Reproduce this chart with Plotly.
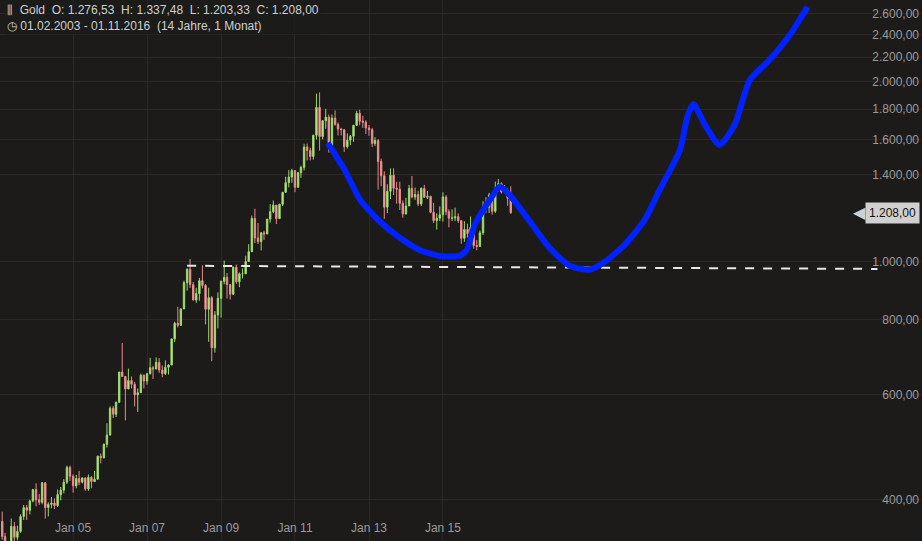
import plotly.graph_objects as go
import pandas as pd
import math

dates = pd.date_range("2003-02-01", "2016-11-01", freq="MS")

closes = [347,334,336,361,346,354,375,388,384,398,416,
 400,396,427,388,393,395,391,408,415,428,453,438,
 422,434,428,435,417,436,429,433,473,470,495,513,
 569,556,582,654,643,613,633,624,599,604,646,632,
 650,665,662,679,659,650,666,672,743,789,783,834,
 923,972,916,863,885,930,913,833,871,718,815,869,
 928,942,916,883,980,926,955,955,1001,1040,1182,1096,
 1081,1118,1113,1179,1213,1244,1181,1248,1307,1357,1386,1421,
 1333,1410,1439,1556,1536,1500,1628,1813,1620,1722,1746,1564,
 1740,1697,1668,1664,1558,1598,1622,1692,1772,1719,1712,1675,
 1664,1578,1595,1472,1393,1234,1312,1396,1328,1323,1253,1202,
 1240,1326,1284,1296,1250,1327,1282,1287,1210,1172,1183,1199,
 1284,1213,1183,1184,1190,1172,1095,1133,1115,1142,1065,1061,
 1118,1238,1233,1293,1215,1322,1351,1309,1316,1277,1208]
highs = [382,352,341,372,367,362,378,392,392,400,417,
 426,409,428,427,396,404,402,416,420,433,456,456,
 441,440,447,436,436,441,438,447,474,478,497,537,
 573,574,584,654,732,630,663,643,630,614,650,648,
 652,691,670,692,690,671,684,674,744,794,841,836,
 930,975,1011,925,905,940,987,918,905,876,827,889,
 930,1005,958,912,982,990,960,975,1024,1070,1195,1227,
 1161,1122,1127,1179,1249,1266,1245,1251,1307,1388,1424,1431,
 1424,1411,1448,1576,1577,1552,1632,1911,1921,1726,1803,1763,
 1764,1792,1711,1676,1666,1640,1630,1693,1790,1796,1755,1725,
 1694,1675,1616,1605,1488,1417,1348,1433,1434,1361,1362,1267,
 1280,1345,1392,1331,1315,1332,1345,1314,1290,1255,1205,1238,
 1307,1293,1224,1224,1232,1205,1175,1169,1158,1191,1142,1088,
 1128,1263,1283,1304,1303,1362,1375,1358,1344,1327,1337.48]
lows = [343,320,325,335,341,342,352,370,370,378,396,
 390,392,393,372,375,387,386,389,399,410,425,430,
 411,418,423,426,414,414,418,428,432,460,469,489,
 515,548,550,582,643,543,612,614,573,561,605,614,
 623,648,637,661,652,641,647,648,672,734,777,787,
 845,895,904,863,854,861,903,786,735,682,705,774,
 807,917,868,865,880,919,907,938,955,1000,1038,1075,
 1071,1045,1088,1113,1163,1206,1157,1182,1240,1313,1332,1356,
 1308,1330,1382,1422,1478,1478,1482,1602,1535,1603,1670,1523,
 1564,1690,1627,1627,1527,1547,1567,1588,1687,1692,1675,1636,
 1625,1555,1563,1321,1338,1180,1207,1274,1293,1251,1221,1185,
 1202,1240,1277,1269,1240,1240,1282,1273,1206,1161,1132,1170,
 1168,1197,1142,1170,1170,1162,1072,1080,1098,1110,1052,1046,
 1061,1109,1208,1207,1199,1207,1310,1301,1305,1241,1203.33]
first_open = 368
opens = [first_open] + closes[:-1]
opens[-1] = 1276.53

blue_x = ["2011-11-20","2012-05-05","2012-10-05","2013-04-20","2013-11-01","2014-05-15",
          "2014-12-01","2015-06-15","2015-08-25","2015-11-10","2016-04-10","2016-07-15",
          "2016-10-20","2017-05-10","2017-11-20","2018-06-05","2018-12-20","2019-05-20",
          "2019-12-01","2020-06-15","2020-11-10","2021-05-30","2021-08-15","2021-10-10",
          "2022-02-01","2022-06-25","2022-11-20","2023-04-20","2023-11-01","2024-05-20","2024-11-10"]
blue_y = [1581,1425,1270,1167,1097,1047,1023,1023,1047,1153,1270,1335,
          1294,1167,1055,985,970,1000,1068,1175,1319,1539,1761,1837,
          1694,1569,1694,2015,2177,2398,2670]

dash_x = ["2008-02-01", "2026-10-01"]
dash_y = [985, 973]

last_price = 1208.00
tick_dates = ["2005-01-01","2007-01-01","2009-01-01","2011-01-01","2013-01-01","2015-01-01"]
tick_text = ["Jan 05","Jan 07","Jan 09","Jan 11","Jan 13","Jan 15"]
y_ticks = [400,600,800,1000,1400,1600,1800,2000,2200,2400,2600]

fig = go.Figure()
fig.add_trace(go.Candlestick(
    x=dates, open=opens, high=highs, low=lows, close=closes,
    increasing=dict(line=dict(color="#9ad86a", width=1), fillcolor="#c4f58e"),
    decreasing=dict(line=dict(color="#e88a8a", width=1), fillcolor="#f6b0b0"),
    whiskerwidth=0, showlegend=False, hoverinfo="skip"))
fig.add_trace(go.Scatter(x=dash_x, y=dash_y, mode="lines",
    line=dict(color="#e8e8e8", width=2, dash="dash"), showlegend=False))
fig.add_trace(go.Scatter(x=blue_x, y=blue_y, mode="lines",
    line=dict(color="#0022ff", width=6, shape="spline", smoothing=0.6), showlegend=False))

ly = math.log10(last_price)
fig.add_annotation(xref="paper", yref="y", x=0.941, y=ly, xanchor="right",
    text="◀", showarrow=False, font=dict(color="#d0d0d0", size=16))
fig.add_annotation(xref="paper", yref="y", x=0.998, y=ly, xanchor="right",
    text="1.208,00", showarrow=False, bgcolor="#d0d0d0", borderpad=3,
    font=dict(color="#111", size=12, family="Liberation Sans"))

fig.add_annotation(xref="paper", yref="paper", x=0.005, y=0.998, xanchor="left", yanchor="top",
    text="⫼  Gold  O: 1.276,53  H: 1.337,48  L: 1.203,33  C: 1.208,00<br>◷ 01.02.2003 - 01.11.2016  (14 Jahre, 1 Monat)",
    align="left", showarrow=False, font=dict(color="#cfcfcf", size=12, family="Liberation Sans"),
    bgcolor="rgba(28,27,26,0.8)")

fig.update_layout(
    width=922, height=541, margin=dict(l=0, r=0, t=0, b=0, pad=0, autoexpand=False),
    paper_bgcolor="#1c1b1a", plot_bgcolor="#1c1b1a",
    separators=",.",
    font=dict(family="Liberation Sans", size=12, color="#9a9a9a"),
    xaxis=dict(range=["2003-01-10", "2027-12-15"], tickvals=tick_dates, ticktext=tick_text,
               ticklabelposition="inside", automargin=False, showgrid=True, gridcolor="#2a2928",
               rangeslider=dict(visible=False), zeroline=False, showline=False,
               ticklabelstandoff=4, tickfont=dict(color="#9a9a9a")),
    yaxis=dict(type="log", side="right", range=[2.533, 3.438], tickvals=y_ticks,
               tickformat=",.2f", ticklabelposition="inside", automargin=False, showgrid=True,
               gridcolor="#2a2928", zeroline=False, tickfont=dict(color="#9a9a9a")),
)
fig.write_html("out.html", config={"displayModeBar": False})
with open("out.html", encoding="utf-8") as f:
    html = f.read()
html = html.replace("<head>", "<head><style>html,body{margin:0;padding:0;background:#1c1b1a;overflow:hidden}</style>", 1)
with open("out.html", "w", encoding="utf-8") as f:
    f.write(html)
